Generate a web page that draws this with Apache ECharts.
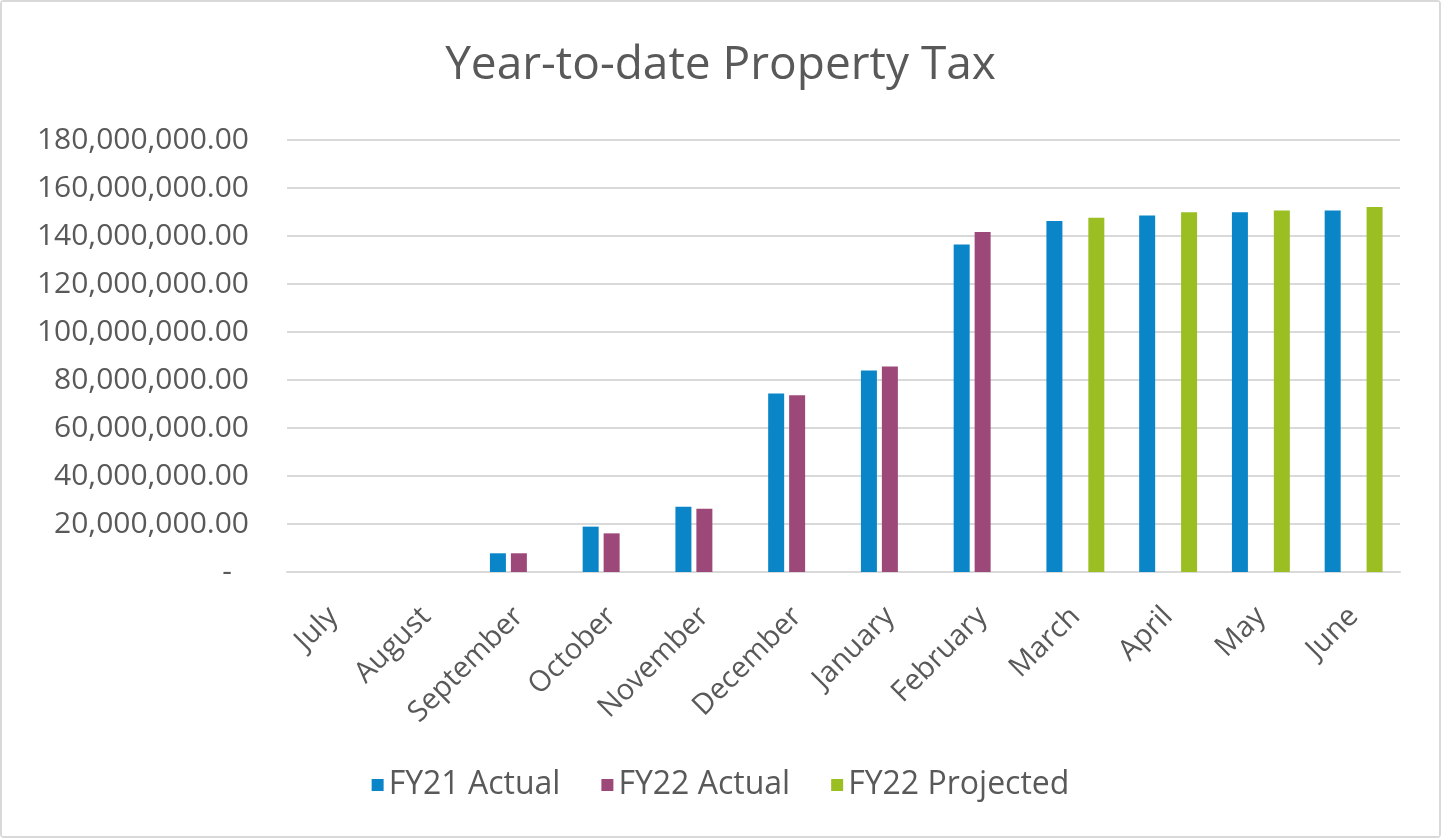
<!DOCTYPE html>
<html>
<head>
<meta charset="utf-8">
<script src="https://cdn.jsdelivr.net/npm/echarts@6/dist/echarts.min.js"></script>
<style>
  html, body { margin: 0; padding: 0; background: #fff; }
  #chart {
    width: 1441px;
    height: 838px;
    box-sizing: border-box;
    border: 2px solid #d9d9d9;
    border-radius: 4px;
  }
</style>
</head>
<body>
<div id="chart"></div>
<script>
const MONTHS = ["July", "August", "September", "October", "November", "December",
  "January", "February", "March", "April", "May", "June"];
const FY21_ACTUAL = [0, 0, 7800000, 18900000, 27200000, 74400000, 84000000,
  136500000, 146200000, 148500000, 149900000, 150600000];
const FY22_ACTUAL = [0, 0, 7800000, 16100000, 26400000, 73600000, 85600000,
  141700000, null, null, null, null];
const FY22_PROJECTED = [null, null, null, null, null, null, null, null,
  147600000, 149900000, 150600000, 152100000];
const SERIES_LABELS = ["FY21 Actual", "FY22 Actual", "FY22 Projected"];
const COLORS = ["#0a86c8", "#9c4878", "#9bbf22"];

const FONT = "'Open Sans', sans-serif";
const TEXT_COLOR = "#595959";

const chart = echarts.init(document.getElementById("chart"), null, { renderer: "canvas" });

// accounting style: zero shows as a dash, pushed in from the right edge
const fmt = (v) => {
  if (v === 0) return "{dash|-}";
  return v.toLocaleString("en-US", { minimumFractionDigits: 2, maximumFractionDigits: 2 });
};

const makeBar = (name, data, color) => ({
  name,
  type: "bar",
  data,
  barWidth: 16,
  barGap: "31%",
  itemStyle: { color },
});

chart.setOption({
  backgroundColor: "#fff",
  animation: false,
  title: {
    text: "Year-to-date Property Tax",
    left: "center",
    top: 36,
    textStyle: { color: TEXT_COLOR, fontFamily: FONT, fontSize: 46, fontWeight: "normal" },
  },
  grid: { left: 285, right: 39, top: 138, bottom: 264, containLabel: false },
  legend: {
    bottom: 30,
    left: "center",
    data: SERIES_LABELS,
    icon: "rect",
    itemWidth: 12,
    itemHeight: 12,
    itemGap: 41,
    textStyle: { color: TEXT_COLOR, fontFamily: FONT, fontSize: 32 },
  },
  xAxis: {
    type: "category",
    data: MONTHS,
    axisLine: { lineStyle: { color: "#d9d9d9", width: 2 } },
    axisTick: { show: false },
    axisLabel: {
      color: TEXT_COLOR,
      fontFamily: FONT,
      fontSize: 29,
      rotate: 45,
      interval: 0,
      margin: 40,
    },
  },
  yAxis: {
    type: "value",
    min: 0,
    max: 180000000,
    interval: 20000000,
    axisLine: { show: false },
    axisTick: { show: false },
    splitLine: { lineStyle: { color: "#d9d9d9", width: 2 } },
    axisLabel: {
      color: TEXT_COLOR,
      fontFamily: FONT,
      fontSize: 30,
      margin: 38,
      formatter: fmt,
      rich: {
        dash: { color: TEXT_COLOR, fontFamily: FONT, fontSize: 30, padding: [0, 17, 0, 0] },
      },
    },
  },
  series: [
    makeBar(SERIES_LABELS[0], FY21_ACTUAL, COLORS[0]),
    makeBar(SERIES_LABELS[1], FY22_ACTUAL, COLORS[1]),
    makeBar(SERIES_LABELS[2], FY22_PROJECTED, COLORS[2]),
  ],
});
</script>
</body>
</html>
